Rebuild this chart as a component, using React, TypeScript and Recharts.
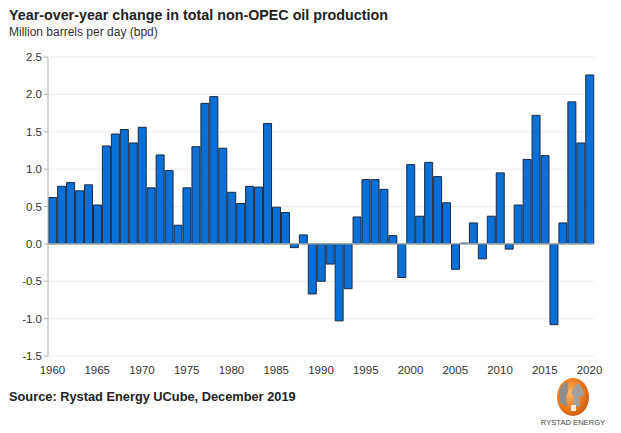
import { BarChart, Bar, XAxis, YAxis, CartesianGrid, ReferenceLine } from "recharts";

const years = [
  1960, 1961, 1962, 1963, 1964, 1965, 1966, 1967, 1968, 1969,
  1970, 1971, 1972, 1973, 1974, 1975, 1976, 1977, 1978, 1979,
  1980, 1981, 1982, 1983, 1984, 1985, 1986, 1987, 1988, 1989,
  1990, 1991, 1992, 1993, 1994, 1995, 1996, 1997, 1998, 1999,
  2000, 2001, 2002, 2003, 2004, 2005, 2006, 2007, 2008, 2009,
  2010, 2011, 2012, 2013, 2014, 2015, 2016, 2017, 2018, 2019,
  2020,
];

// million bpd, year-over-year change
const change = [
  0.62, 0.77, 0.82, 0.71, 0.79, 0.52, 1.31, 1.47, 1.53, 1.35,
  1.56, 0.75, 1.19, 0.98, 0.25, 0.75, 1.3, 1.88, 1.97, 1.28,
  0.69, 0.54, 0.77, 0.76, 1.61, 0.49, 0.42, -0.05, 0.12, -0.67,
  -0.5, -0.27, -1.03, -0.6, 0.36, 0.86, 0.86, 0.73, 0.11, -0.45,
  1.06, 0.37, 1.09, 0.9, 0.55, -0.34, 0.01, 0.28, -0.2, 0.37,
  0.95, -0.07, 0.52, 1.13, 1.72, 1.18, -1.08, 0.28, 1.9, 1.35,
  2.26,
];

const yTicks = [-1.5, -1.0, -0.5, 0, 0.5, 1.0, 1.5, 2.0, 2.5];

const data = years.map((y, i) => ({ year: String(y), value: change[i] }));

const font = "'Liberation Sans', Arial, sans-serif";

function Logo() {
  return (
    <g>
      <defs>
        <radialGradient id="orb" cx="40%" cy="40%" r="65%">
          <stop offset="0%" stopColor="#fbb766" />
          <stop offset="60%" stopColor="#ef7d1f" />
          <stop offset="100%" stopColor="#c85a12" />
        </radialGradient>
      </defs>
      <ellipse cx={573} cy={397} rx={16} ry={19} fill="url(#orb)" />
      <path d="M567 381 q-9 6 -8 17 q2 9 9 8 q-3 -6 -1 -12 q3 -6 0 -13 z" fill="#8f8f8f" />
      <path d="M577 383 q7 4 7 13 l-5 1 l1 9 q-5 3 -7 -3 l1 -7 l-3 -3 z" fill="#a0a0a0" />
      <path d="M571 405 h5 v6 h-5 z" fill="#ffffff" opacity={0.85} />
      <text x={573} y={425} textAnchor="middle" fontSize={7.6} fill="#444" fontFamily={font}>
        RYSTAD ENERGY
      </text>
    </g>
  );
}

export default function App() {
  return (
    <div style={{ position: "absolute", left: 0, top: 0, width: 621, height: 433, background: "#fff" }}>
      <BarChart
        width={621}
        height={433}
        data={data}
        margin={{ top: 57, right: 27, bottom: 57, left: 8 }}
        barCategoryGap="8%"
      >
        <CartesianGrid vertical={false} stroke="#ececec" />
        <XAxis
          dataKey="year"
          interval={4}
          axisLine={false}
          tickLine={false}
          height={20}
          tick={{ fontSize: 11.5, fill: "#333", fontFamily: font }}
          tickMargin={4}
        />
        <YAxis
          domain={[-1.5, 2.5]}
          ticks={yTicks}
          width={40}
          stroke="#b0b0b0"
          tickSize={4}
          tickFormatter={(v: number) => v.toFixed(1)}
          tick={{ fontSize: 11.5, fill: "#333", fontFamily: font }}
          tickMargin={2}
        />
        <ReferenceLine y={0} stroke="#c8c8c8" />
        <Bar dataKey="value" fill="#0a6fd6" stroke="#1d2b40" strokeWidth={1} isAnimationActive={false} />
      </BarChart>
      <svg width={621} height={433} style={{ position: "absolute", left: 0, top: 0, pointerEvents: "none" }}>
        <text x={9} y={20} fontSize={14.3} fontWeight="bold" fill="#222" fontFamily={font}>
          Year-over-year change in total non-OPEC oil production
        </text>
        <text x={9} y={36} fontSize={12} fill="#333" fontFamily={font}>
          Million barrels per day (bpd)
        </text>
        <text x={9} y={401} fontSize={12.8} fontWeight="bold" fill="#222" fontFamily={font}>
          Source: Rystad Energy UCube, December 2019
        </text>
        <Logo />
      </svg>
    </div>
  );
}
